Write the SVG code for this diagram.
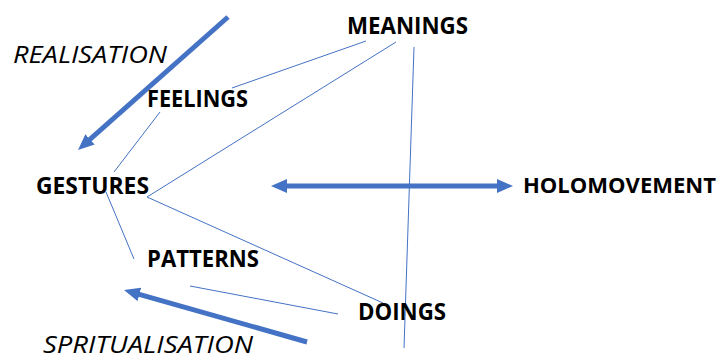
<svg xmlns="http://www.w3.org/2000/svg" width="723" height="360" viewBox="0 0 723 360">
<style>
.n{font-family:"Open Sans","Liberation Sans",sans-serif;font-weight:bold;font-size:23px;fill:#000}
.i{font-family:"Open Sans","Liberation Sans",sans-serif;font-style:italic;font-size:24px;fill:#000}
.thin{stroke:#4472C4;stroke-width:1;fill:none}
.thick{stroke:#4472C4;stroke-width:5;fill:none}
</style>
<defs>
<marker id="ah" markerUnits="userSpaceOnUse" markerWidth="16" markerHeight="14" refX="2" refY="7" orient="auto-start-reverse">
<path d="M0,0 L16,7 L0,14 z" fill="#4472C4"/>
</marker>
</defs>
<rect width="723" height="360" fill="#fff"/>
<g id="connectors">
<line class="thin" x1="366" y1="41" x2="232" y2="88"/>
<line class="thin" x1="396" y1="42" x2="147" y2="197"/>
<line class="thin" x1="147" y1="197" x2="383" y2="303"/>
<line class="thin" x1="106" y1="192" x2="134" y2="259"/>
<line class="thin" x1="160" y1="112" x2="114" y2="172"/>
<line class="thin" x1="190" y1="286" x2="338" y2="314"/>
<line class="thin" x1="414" y1="47" x2="404" y2="348"/>
<line class="thick" x1="228" y1="17" x2="88.5" y2="140.7" marker-end="url(#ah)"/>
<line class="thick" x1="307" y1="342" x2="137.5" y2="293.8" marker-end="url(#ah)"/>
<line class="thick" x1="285" y1="186" x2="499" y2="186" marker-start="url(#ah)" marker-end="url(#ah)"/>
</g>
<g id="meanings"><text class="n" x="347" y="34" textLength="121" lengthAdjust="spacingAndGlyphs">MEANINGS</text></g>
<g id="feelings"><text class="n" x="147" y="107" textLength="101" lengthAdjust="spacingAndGlyphs">FEELINGS</text></g>
<g id="gestures"><text class="n" x="36" y="194" textLength="113" lengthAdjust="spacingAndGlyphs">GESTURES</text></g>
<g id="patterns"><text class="n" x="147" y="267" textLength="112" lengthAdjust="spacingAndGlyphs">PATTERNS</text></g>
<g id="doings"><text class="n" x="358" y="320" textLength="88" lengthAdjust="spacingAndGlyphs">DOINGS</text></g>
<g id="holomovement"><text class="n" x="523" y="193" style="font-size:22px" textLength="193" lengthAdjust="spacingAndGlyphs">HOLOMOVEMENT</text></g>
<g id="realisation"><text class="i" x="13" y="63" textLength="154" lengthAdjust="spacingAndGlyphs">REALISATION</text></g>
<g id="spritualisation"><text class="i" x="43" y="353" textLength="210" lengthAdjust="spacingAndGlyphs">SPRITUALISATION</text></g>
</svg>
